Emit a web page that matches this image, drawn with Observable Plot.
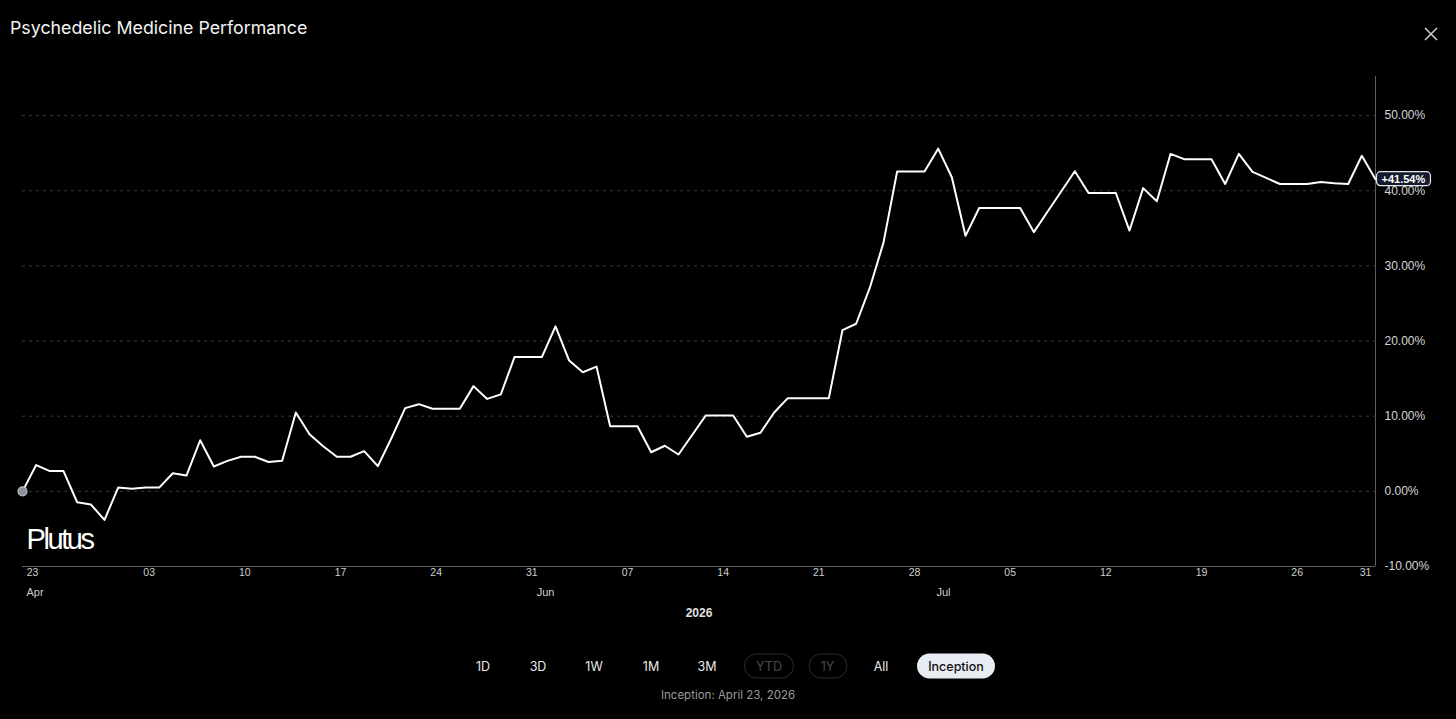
<!DOCTYPE html>
<html>
<head>
<meta charset="utf-8">
<script src="https://cdn.jsdelivr.net/npm/d3@7"></script>
<script src="https://cdn.jsdelivr.net/npm/@observablehq/plot@0.6"></script>
<style>
  html, body { margin: 0; padding: 0; background: #000; }
  #page { position: relative; width: 1456px; height: 719px; background: #000; overflow: hidden; font-family: Inter, "Noto Sans", sans-serif; }
  #title { position: absolute; left: 10px; top: 17px; color: #f2f2f2; font-size: 17.8px; font-weight: 400; }
  #close { position: absolute; left: 1424px; top: 27px; }
  #chart { position: absolute; left: 0; top: 56px; }
  .btn { position: absolute; transform: translate(-50%, -50%); color: #e8e8e8; font-size: 12.5px; white-space: nowrap; }
  .pill { border: 1px solid #2e2e2e; border-radius: 13px; color: #4a4a4a; padding: 4px 0; text-align: center; }
  .active { background: #e8ecf3; color: #111; border-radius: 13px; padding: 5px 0; text-align: center; font-weight: 500; }
  #caption { position: absolute; left: 728px; top: 695px; transform: translate(-50%, -50%); color: #9a9a9a; font-size: 11.5px; white-space: nowrap; }
</style>
</head>
<body>
<div id="page">
  <div id="title">Psychedelic Medicine Performance</div>
  <svg id="close" width="14" height="14" viewBox="0 0 14 14"><path d="M1 1 L13 13 M13 1 L1 13" stroke="#cfcfcf" stroke-width="1.5" fill="none"/></svg>
  <div id="chart"></div>
  <div id="buttons"></div>
  <div id="caption">Inception: April 23, 2026</div>
</div>
<script>
// Daily cumulative performance (%), Apr 23 2026 → Jul 31 2026 (weekends carry the last value)
const startDate = "2026-04-23";
const values = [
  0, 3.5, 2.7, 2.7, -1.45, -1.75, -3.8, 0.5, 0.35, 0.5,
  0.5, 2.4, 2.1, 6.8, 3.3, 4.05, 4.6, 4.6, 3.9, 4.06,
  10.5, 7.6, 6.0, 4.6, 4.6, 5.36, 3.35, 7.1, 11.07, 11.6,
  11.0, 11.0, 11.0, 14.0, 12.3, 12.9, 17.86, 17.86, 17.86, 21.96,
  17.4, 15.85, 16.6, 8.66, 8.66, 8.66, 5.2, 6.07, 4.9, 7.5,
  10.1, 10.1, 10.1, 7.26, 7.8, 10.5, 12.4, 12.4, 12.4, 12.4,
  21.46, 22.3, 27.1, 33.1, 42.57, 42.57, 42.57, 45.6, 41.8, 34.0,
  37.7, 37.7, 37.7, 37.7, 34.5, 37.2, 39.9, 42.6, 39.7, 39.7,
  39.7, 34.7, 40.35, 38.6, 44.9, 44.2, 44.2, 44.2, 40.9, 44.9,
  42.5, 41.7, 40.9, 40.9, 40.9, 41.15, 41.0, 40.9, 44.65, 41.54
];
const yTicks = [-10, 0, 10, 20, 30, 40, 50];
const yTop = 55.2;
const xTickDates = ["2026-04-23","2026-05-03","2026-05-10","2026-05-17","2026-05-24","2026-05-31","2026-06-07","2026-06-14","2026-06-21","2026-06-28","2026-07-05","2026-07-12","2026-07-19","2026-07-26","2026-07-31"];
const xTickLabels = ["23","03","10","17","24","31","07","14","21","28","05","12","19","26","31"];
const monthDates = ["2026-04-23","2026-06-01","2026-07-01"];
const monthLabels = ["Apr","Jun","Jul"];
const yearLabel = "2026";
const lastLabel = "+41.54%";
const buttonLabels = ["1D","3D","1W","1M","3M","YTD","1Y","All","Inception"];
const buttonState = ["on","on","on","on","on","off","off","on","active"];

const start = new Date(startDate);
const data = values.map((v, i) => ({date: d3.utcDay.offset(start, i), value: v}));
const end = data[data.length - 1].date;
const xTicks = xTickDates.map((d, i) => ({date: new Date(d), label: xTickLabels[i]}));
const months = monthDates.map((d, i) => ({date: new Date(d), label: monthLabels[i]}));

const labelFont = "Liberation Sans, Arial, sans-serif";

const plot = Plot.plot({
  width: 1456,
  height: 574,
  marginLeft: 22,
  marginRight: 81,
  marginTop: 20,
  marginBottom: 64,
  style: {background: "#000", color: "#d0d0d0", fontFamily: labelFont, overflow: "visible"},
  x: {type: "utc", domain: [start, end], axis: null},
  y: {domain: [-10, yTop], axis: null},
  marks: [
    Plot.gridY(yTicks.filter(t => t > -10), {stroke: "#3a3a3a", strokeOpacity: 1, strokeDasharray: "3,4"}),
    Plot.ruleY([-10], {stroke: "#5e5e66", strokeWidth: 1}),
    Plot.ruleX([end], {y1: -10, y2: yTop, stroke: "#5e5e66", strokeWidth: 1}),
    Plot.axisY({anchor: "right", ticks: yTicks, tickSize: 0, tickPadding: 9, label: null, tickFormat: d => d.toFixed(2) + "%", fontSize: 12, fill: "#d6d6d6", fontFamily: labelFont}),
    Plot.text(xTicks.slice(0, 1), {x: "date", text: "label", frameAnchor: "bottom", dy: 9, dx: 10, fontSize: 10.5, fill: "#cfcfcf"}),
    Plot.text(xTicks.slice(1), {x: "date", text: "label", frameAnchor: "bottom", dy: 9, dx: -10, fontSize: 10.5, fill: "#cfcfcf"}),
    Plot.text(months.slice(0, 1), {x: "date", text: "label", frameAnchor: "bottom", dy: 29, dx: 4, textAnchor: "start", fontSize: 11, fill: "#cfcfcf"}),
    Plot.text(months.slice(1, 2), {x: "date", text: "label", frameAnchor: "bottom", dy: 29, dx: -10, fontSize: 11, fill: "#cfcfcf"}),
    Plot.text(months.slice(2), {x: "date", text: "label", frameAnchor: "bottom", dy: 29, dx: -22, fontSize: 11, fill: "#cfcfcf"}),
    Plot.text([yearLabel], {text: d => d, frameAnchor: "bottom", dy: 50, fontSize: 12, fontWeight: "bold", fill: "#e0e0e0"}),
    Plot.text(["Plutus"], {text: d => d, frameAnchor: "bottom-left", textAnchor: "start", dx: 4, dy: -18, fontSize: 29, fill: "#ffffff", fontFamily: "Liberation Sans, Arial, sans-serif"}),
    Plot.line(data, {x: "date", y: "value", stroke: "#ffffff", strokeWidth: 2}),
    Plot.dot(data.slice(0, 1), {x: "date", y: "value", r: 4.5, fill: "#8c929c", stroke: "#b8bcc6", strokeWidth: 1.2}),
    Plot.text(data.slice(-1), {x: "date", y: "value", text: () => lastLabel, textAnchor: "start", dx: 6, dy: 0, fontSize: 11, fontWeight: "bold", fill: "#ffffff"})
  ]
});

document.getElementById("chart").appendChild(plot);

// style the watermark and box the last-value label
d3.select(plot).selectAll("text").each(function() {
  const t = d3.select(this);
  if (t.text() === "Plutus") t.attr("letter-spacing", "-2.4px");
  if (t.text() === lastLabel) {
    const bb = this.getBBox();
    const r = d3.select(this.parentNode).insert("rect", () => this)
      .attr("x", bb.x - 5).attr("y", bb.y - 1)
      .attr("width", bb.width + 10).attr("height", bb.height + 2)
      .attr("rx", 4).attr("fill", "#141b2c").attr("stroke", "#e4e7ee").attr("stroke-width", 1.2);
    if (this.getAttribute("transform")) r.attr("transform", this.getAttribute("transform"));
  }
});

// range buttons
const centers = [483, 538, 594, 651, 707, 769, 827.5, 881, 956];
const widths = [0, 0, 0, 0, 0, 48, 37, 0, 78];
const bc = document.getElementById("buttons");
buttonLabels.forEach((lab, i) => {
  const s = document.createElement("div");
  s.className = "btn" + (buttonState[i] === "off" ? " pill" : buttonState[i] === "active" ? " active" : "");
  s.textContent = lab;
  s.style.left = centers[i] + "px";
  s.style.top = "666px";
  if (widths[i]) s.style.width = widths[i] + "px";
  bc.appendChild(s);
});
</script>
</body>
</html>
